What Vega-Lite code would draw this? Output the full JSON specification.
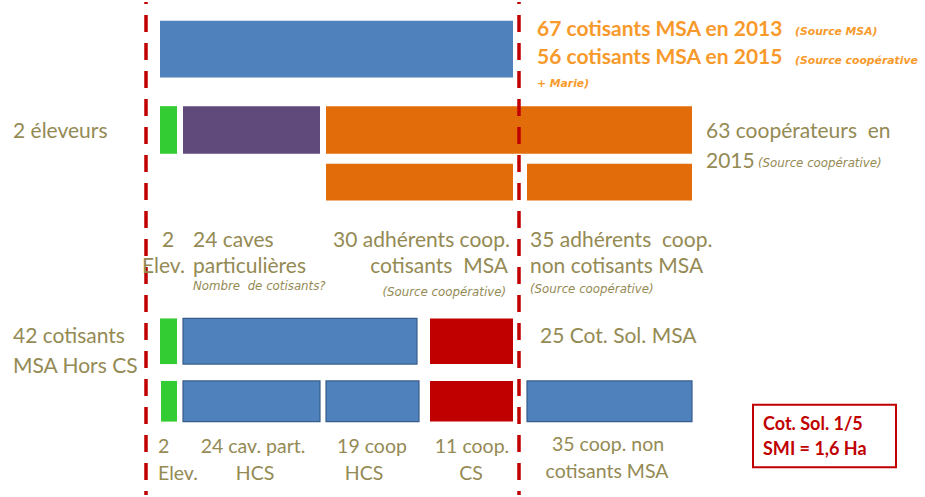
{
  "$schema": "https://vega.github.io/schema/vega-lite/v6.json",
  "width": 925,
  "height": 497,
  "autosize": {"type": "fit", "contains": "padding"},
  "padding": 0,
  "background": "white",
  "config": {"view": {"stroke": null}, "text": {"font": "Lato"}},
  "encoding": {
    "x": {"type": "quantitative", "scale": {"domain": [0, 925], "nice": false, "zero": false}, "axis": null},
    "y": {"type": "quantitative", "scale": {"domain": [0, 497], "nice": false, "zero": false, "reverse": true}, "axis": null}
  },
  "layer": [
    {
      "data": {"values": [
        {"x1": 160, "x2": 513, "y1": 19, "y2": 76, "c": "bleu"},
        {"x1": 160, "x2": 177, "y1": 105, "y2": 153, "c": "vert"},
        {"x1": 183, "x2": 320, "y1": 105, "y2": 153, "c": "violet"},
        {"x1": 326, "x2": 692, "y1": 105, "y2": 153, "c": "orange"},
        {"x1": 326, "x2": 513, "y1": 163, "y2": 200, "c": "orange"},
        {"x1": 527, "x2": 692, "y1": 163, "y2": 200, "c": "orange"},
        {"x1": 160, "x2": 177, "y1": 319, "y2": 365, "c": "vert"},
        {"x1": 430, "x2": 513, "y1": 319, "y2": 365, "c": "rouge"},
        {"x1": 161, "x2": 177, "y1": 382, "y2": 423, "c": "vert"},
        {"x1": 430, "x2": 513, "y1": 382, "y2": 423, "c": "rouge"}
      ]},
      "mark": {"type": "rect"},
      "encoding": {
        "x": {"field": "x1", "type": "quantitative"},
        "x2": {"field": "x2"},
        "y": {"field": "y1", "type": "quantitative"},
        "y2": {"field": "y2"},
        "color": {"field": "c", "type": "nominal", "legend": null,
          "scale": {"domain": ["bleu", "vert", "violet", "orange", "rouge"], "range": ["#4F81BD", "#33CC33", "#604A7B", "#E36C0A", "#C00000"]}}
      }
    },
    {
      "data": {"values": [
        {"x1": 183, "x2": 417, "y1": 319, "y2": 365},
        {"x1": 183, "x2": 320, "y1": 382, "y2": 423},
        {"x1": 326, "x2": 419, "y1": 382, "y2": 423},
        {"x1": 527, "x2": 692, "y1": 382, "y2": 423}
      ]},
      "mark": {"type": "rect", "fill": "#4F81BD", "stroke": "#385D8A", "strokeWidth": 1.2},
      "encoding": {
        "x": {"field": "x1", "type": "quantitative"},
        "x2": {"field": "x2"},
        "y": {"field": "y1", "type": "quantitative"},
        "y2": {"field": "y2"}
      }
    },
    {
      "data": {"values": [{"x": 146}, {"x": 519}]},
      "mark": {"type": "rule", "color": "#C00000", "strokeWidth": 3.5, "strokeDash": [17, 11], "strokeDashOffset": 15},
      "encoding": {
        "x": {"field": "x", "type": "quantitative"},
        "y": {"datum": 0},
        "y2": {"datum": 497}
      }
    },
    {
      "data": {"values": [{"x1": 753, "x2": 896, "y1": 406, "y2": 469}]},
      "mark": {"type": "rect", "fill": "white", "stroke": "#C00000", "strokeWidth": 2},
      "encoding": {
        "x": {"field": "x1", "type": "quantitative"},
        "x2": {"field": "x2"},
        "y": {"field": "y1", "type": "quantitative"},
        "y2": {"field": "y2"}
      }
    },
    {
      "data": {"values": [
        {"x": 537, "y": 34, "t": "67 cotisants MSA en 2013"},
        {"x": 537, "y": 63, "t": "56 cotisants MSA en 2015"}
      ]},
      "mark": {"type": "text", "align": "left", "baseline": "alphabetic", "fontSize": 21, "fontWeight": "bold", "color": "#F79A2B"},
      "encoding": {"x": {"field": "x", "type": "quantitative"}, "y": {"field": "y", "type": "quantitative"}, "text": {"field": "t"}}
    },
    {
      "data": {"values": [
        {"x": 795, "y": 33, "t": "(Source MSA)"},
        {"x": 795, "y": 62, "t": "(Source coopérative"},
        {"x": 537, "y": 86, "t": "+ Marie)"}
      ]},
      "mark": {"type": "text", "align": "left", "baseline": "alphabetic", "font": "DejaVu Sans", "fontSize": 10.8, "fontWeight": "bold", "fontStyle": "italic", "color": "#F79A2B"},
      "encoding": {"x": {"field": "x", "type": "quantitative"}, "y": {"field": "y", "type": "quantitative"}, "text": {"field": "t"}}
    },
    {
      "data": {"values": [
        {"x": 13, "y": 137, "t": "2 éleveurs"},
        {"x": 706, "y": 137, "t": "63 coopérateurs\u00a0 en"},
        {"x": 706, "y": 167, "t": "2015"},
        {"x": 13, "y": 344, "t": "42 cotisants"},
        {"x": 13, "y": 374, "t": "MSA Hors CS"},
        {"x": 540, "y": 344, "t": "25 Cot. Sol. MSA"},
        {"x": 162, "y": 247, "t": "2"},
        {"x": 193, "y": 247, "t": "24 caves"},
        {"x": 142, "y": 273, "t": "Elev."},
        {"x": 193, "y": 273, "t": "particulières"},
        {"x": 530, "y": 247, "t": "35 adhérents\u00a0 coop."},
        {"x": 530, "y": 273, "t": "non cotisants MSA"}
      ]},
      "mark": {"type": "text", "align": "left", "baseline": "alphabetic", "fontSize": 21, "color": "#948A54"},
      "encoding": {"x": {"field": "x", "type": "quantitative"}, "y": {"field": "y", "type": "quantitative"}, "text": {"field": "t"}}
    },
    {
      "data": {"values": [
        {"x": 510, "y": 247, "t": "30 adhérents coop."},
        {"x": 508, "y": 273, "t": "cotisants\u00a0 MSA"}
      ]},
      "mark": {"type": "text", "align": "right", "baseline": "alphabetic", "fontSize": 21, "color": "#948A54"},
      "encoding": {"x": {"field": "x", "type": "quantitative"}, "y": {"field": "y", "type": "quantitative"}, "text": {"field": "t"}}
    },
    {
      "data": {"values": [
        {"x": 193, "y": 290, "t": "Nombre\u00a0 de cotisants?"},
        {"x": 530, "y": 293, "t": "(Source coopérative)"},
        {"x": 758, "y": 166, "t": "(Source coopérative)"}
      ]},
      "mark": {"type": "text", "align": "left", "baseline": "alphabetic", "font": "DejaVu Sans", "fontSize": 11.8, "fontStyle": "italic", "color": "#948A54"},
      "encoding": {"x": {"field": "x", "type": "quantitative"}, "y": {"field": "y", "type": "quantitative"}, "text": {"field": "t"}}
    },
    {
      "data": {"values": [
        {"x": 506, "y": 296, "t": "(Source coopérative)"}
      ]},
      "mark": {"type": "text", "align": "right", "baseline": "alphabetic", "font": "DejaVu Sans", "fontSize": 11.8, "fontStyle": "italic", "color": "#948A54"},
      "encoding": {"x": {"field": "x", "type": "quantitative"}, "y": {"field": "y", "type": "quantitative"}, "text": {"field": "t"}}
    },
    {
      "data": {"values": [
        {"x": 158, "y": 455, "t": "2"},
        {"x": 158, "y": 482, "t": "Elev."}
      ]},
      "mark": {"type": "text", "align": "left", "baseline": "alphabetic", "fontSize": 19.5, "color": "#948A54"},
      "encoding": {"x": {"field": "x", "type": "quantitative"}, "y": {"field": "y", "type": "quantitative"}, "text": {"field": "t"}}
    },
    {
      "data": {"values": [
        {"x": 253, "y": 455, "t": "24 cav. part."},
        {"x": 255, "y": 482, "t": "HCS"},
        {"x": 372, "y": 455, "t": "19 coop"},
        {"x": 364, "y": 482, "t": "HCS"},
        {"x": 472, "y": 455, "t": "11 coop."},
        {"x": 471, "y": 482, "t": "CS"},
        {"x": 608, "y": 453, "t": "35 coop. non"},
        {"x": 607, "y": 480, "t": "cotisants MSA"}
      ]},
      "mark": {"type": "text", "align": "center", "baseline": "alphabetic", "fontSize": 19.5, "color": "#948A54"},
      "encoding": {"x": {"field": "x", "type": "quantitative"}, "y": {"field": "y", "type": "quantitative"}, "text": {"field": "t"}}
    },
    {
      "data": {"values": [
        {"x": 763, "y": 431, "t": "Cot. Sol. 1/5"},
        {"x": 763, "y": 457, "t": "SMI = 1,6 Ha"}
      ]},
      "mark": {"type": "text", "align": "left", "baseline": "alphabetic", "fontSize": 18, "fontWeight": "bold", "color": "#C00000"},
      "encoding": {"x": {"field": "x", "type": "quantitative"}, "y": {"field": "y", "type": "quantitative"}, "text": {"field": "t"}}
    }
  ]
}
